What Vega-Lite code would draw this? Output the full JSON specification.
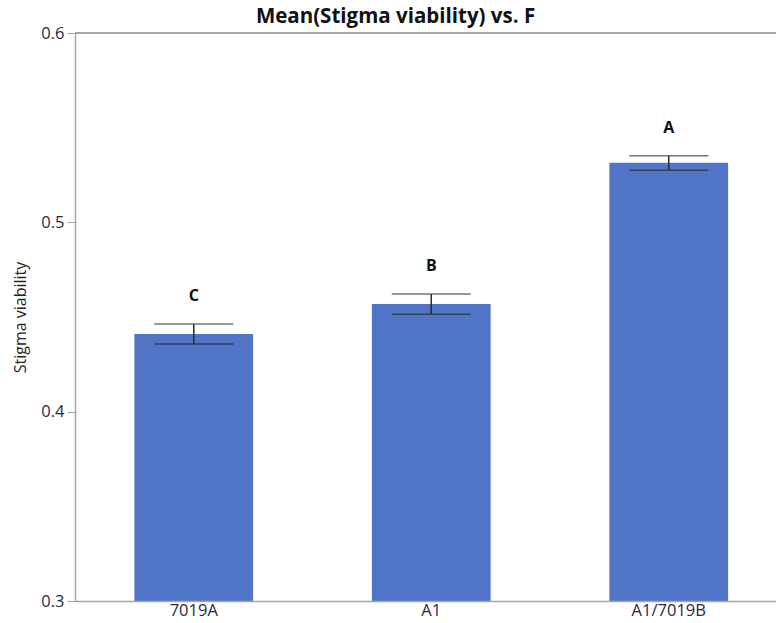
{
  "$schema": "https://vega.github.io/schema/vega-lite/v6.json",
  "autosize": "none",
  "padding": {"left": 75, "top": 33, "right": 0, "bottom": 22},
  "width": 701,
  "height": 568,
  "background": "white",
  "config": {
    "view": {"stroke": null},
    "font": "Open Sans"
  },
  "title": {
    "text": "Mean(Stigma viability) vs. F",
    "font": "Open Sans",
    "fontSize": 20.5,
    "fontWeight": "bold",
    "color": "#111111",
    "anchor": "middle",
    "dx": -30,
    "dy": 3,
    "offset": 1
  },
  "data": {
    "values": [
      {"F": "7019A", "mean": 0.441, "lower": 0.4357, "upper": 0.4463, "letter": "C"},
      {"F": "A1", "mean": 0.4569, "lower": 0.4514, "upper": 0.4621, "letter": "B"},
      {"F": "A1/7019B", "mean": 0.5315, "lower": 0.5275, "upper": 0.5352, "letter": "A"}
    ]
  },
  "encoding": {
    "x": {
      "field": "F",
      "type": "nominal",
      "sort": null,
      "scale": {"range": [0, 712.5], "paddingInner": 0.5, "paddingOuter": 0.25},
      "axis": {
        "title": null,
        "labelAngle": 0,
        "labelFont": "Open Sans",
        "labelFontSize": 16.5,
        "labelColor": "#2a2a3a",
        "labelPadding": 1,
        "ticks": false,
        "domainColor": "#a6a6a6",
        "domainWidth": 1.5,
        "zindex": 1
      }
    }
  },
  "layer": [
    {
      "mark": {"type": "rule", "color": "#a6a6a6", "strokeWidth": 1.5},
      "encoding": {"x": null, "y": {"datum": 0.6, "type": "quantitative"}}
    },
    {
      "mark": {"type": "bar", "color": "#5175C6"},
      "encoding": {
        "y": {
          "field": "mean",
          "type": "quantitative",
          "scale": {"domain": [0.3, 0.6], "nice": false, "zero": false},
          "axis": {
            "title": "Stigma viability",
            "titleFont": "Open Sans",
            "titleFontSize": 16,
            "titleFontWeight": "normal",
            "titleColor": "#222222",
            "titlePadding": 12,
            "values": [0.3, 0.4, 0.5, 0.6],
            "format": ".1f",
            "labelFont": "Open Sans",
            "labelFontSize": 16.5,
            "labelColor": "#2a2a3a",
            "labelPadding": 3,
            "tickSize": 8,
            "tickColor": "#a6a6a6",
            "domainColor": "#a6a6a6",
            "domainWidth": 1.5,
            "grid": false
          }
        },
        "y2": {"datum": 0.3}
      }
    },
    {
      "mark": {"type": "rule", "color": "#2b2b2b", "strokeWidth": 1.5},
      "encoding": {
        "y": {"field": "lower", "type": "quantitative"},
        "y2": {"field": "upper"}
      }
    },
    {
      "mark": {"type": "tick", "color": "#2b2b2b", "size": 79, "thickness": 1.5},
      "encoding": {"y": {"field": "lower", "type": "quantitative"}}
    },
    {
      "mark": {"type": "tick", "color": "#3a3a3a", "size": 79, "thickness": 1.5},
      "encoding": {"y": {"field": "upper", "type": "quantitative"}}
    },
    {
      "mark": {"type": "text", "font": "Open Sans", "fontSize": 16, "fontWeight": "bold", "color": "#111111", "baseline": "middle", "dy": -28},
      "encoding": {
        "y": {"field": "upper", "type": "quantitative"},
        "text": {"field": "letter"}
      }
    }
  ]
}
